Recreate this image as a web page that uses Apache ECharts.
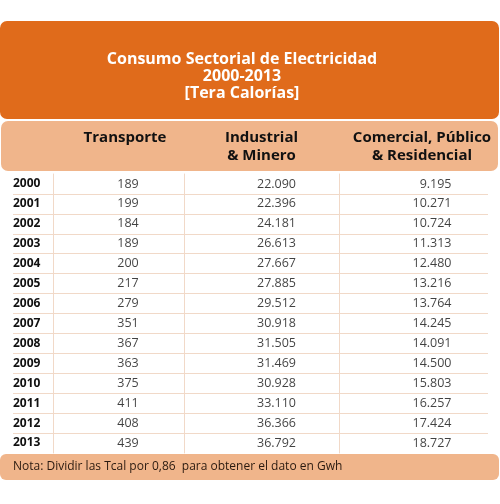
<!DOCTYPE html>
<html><head><meta charset="utf-8">
<script src="https://cdn.jsdelivr.net/npm/echarts@6/dist/echarts.min.js"></script>
<style>html,body{margin:0;padding:0;background:#fff}#c{width:500px;height:504px}</style>
</head><body><div id="c"></div>
<script>
var titleLines = ['Consumo Sectorial de Electricidad', '2000-2013', '[Tera Calorías]'];
var years = ['2000','2001','2002','2003','2004','2005','2006','2007','2008','2009','2010','2011','2012','2013'];
var columns = ['Transporte', 'Industrial\n& Minero', 'Comercial, Público\n& Residencial'];
var transporte = [189,199,184,189,200,217,279,351,367,363,375,411,408,439];
var industrial = [22090,22396,24181,26613,27667,27885,29512,30918,31505,31469,30928,33110,36366,36792];
var comercial = [9195,10271,10724,11313,12480,13216,13764,14245,14091,14500,15803,16257,17424,18727];
var note = 'Nota: Dividir las Tcal por 0,86  para obtener el dato en Gwh';

var FONT = '"Open Sans", "Noto Sans", sans-serif';
var DARK = '#E06B1B', LIGHT = '#F0B58B', LINE = '#F1D9C8', TXT = '#111111';
function fmt(v){ return String(v).replace(/\B(?=(\d{3})+(?!\d))/g, '.'); }

var seriesData = [transporte, industrial, comercial];
var colGrids = [
  {left: 53, width: 131, align: 'center', off: 9.5, hpad: 13},
  {left: 184, width: 155, align: 'left', off: -4.5, hpad: 0},
  {left: 339, width: 149, align: 'right', off: 38, hpad: 17}
];
var TOP = 174, H = 279;

var grids = [{left: 13, width: 475, top: TOP, height: H}];
var xAxes = [{gridIndex: 0, type: 'value', show: false}];
var yAxes = [{
  gridIndex: 0, type: 'category', data: years, inverse: true,
  axisLine: {show: false}, axisTick: {show: false},
  axisLabel: {show: true, align: 'left', margin: 0, color: TXT, fontFamily: FONT, fontWeight: 'bold', fontSize: 12},
  splitLine: {show: true, showMinLine: false, showMaxLine: false, lineStyle: {color: LINE, width: 1}}
}];
var series = [];
colGrids.forEach(function(g, i){
  grids.push({left: g.left, width: g.width, top: TOP, height: H});
  xAxes.push({
    gridIndex: i + 1, type: 'category', data: [columns[i]], position: 'top',
    axisLine: {show: false}, axisTick: {show: false},
    axisLabel: {show: true, margin: 45, verticalAlign: 'top', color: TXT, fontFamily: FONT, fontWeight: 'bold', fontSize: 15, lineHeight: 18,
      align: 'center', padding: [0, 0, 0, g.hpad]}
  });
  yAxes.push({
    gridIndex: i + 1, type: 'category', data: years, inverse: true,
    axisLine: {show: true, lineStyle: {color: LINE, width: 1}}, axisTick: {show: false},
    axisLabel: {show: false}, splitLine: {show: false}
  });
  series.push({
    type: 'scatter', xAxisIndex: i + 1, yAxisIndex: i + 1, symbolSize: 0, silent: true,
    data: years.map(function(y, k){ return [0, y, seriesData[i][k]]; }),
    label: {show: true, position: 'inside', align: g.align, offset: [g.off, 0],
      formatter: function(p){ return fmt(p.value[2]); },
      color: TXT, fontFamily: FONT, fontSize: 12.5}
  });
});

var chart = echarts.init(document.getElementById('c'), null, {renderer: 'canvas'});
chart.setOption({
  animation: false,
  graphic: [
    {type: 'rect', z: -10, shape: {x: 0, y: 21, width: 499, height: 98, r: 7}, style: {fill: DARK}},
    {type: 'rect', z: -10, shape: {x: 1, y: 121, width: 497, height: 50, r: 7}, style: {fill: LIGHT}},
    {type: 'rect', z: 10, shape: {x: 0, y: 454, width: 499, height: 26, r: 6}, style: {fill: LIGHT}}
  ],
  title: [
    {text: titleLines.join('\n'), left: 242, top: 51, textAlign: 'center', padding: 0,
     textStyle: {color: '#fff', fontFamily: FONT, fontWeight: 'bold', fontSize: 16, lineHeight: 17}},
    {text: note, left: 13, top: 459, padding: 0, z: 20,
     textStyle: {color: '#2a1a10', fontFamily: FONT, fontWeight: 'normal', fontSize: 12, lineHeight: 16}}
  ],
  grid: grids, xAxis: xAxes, yAxis: yAxes, series: series
});
</script></body></html>
